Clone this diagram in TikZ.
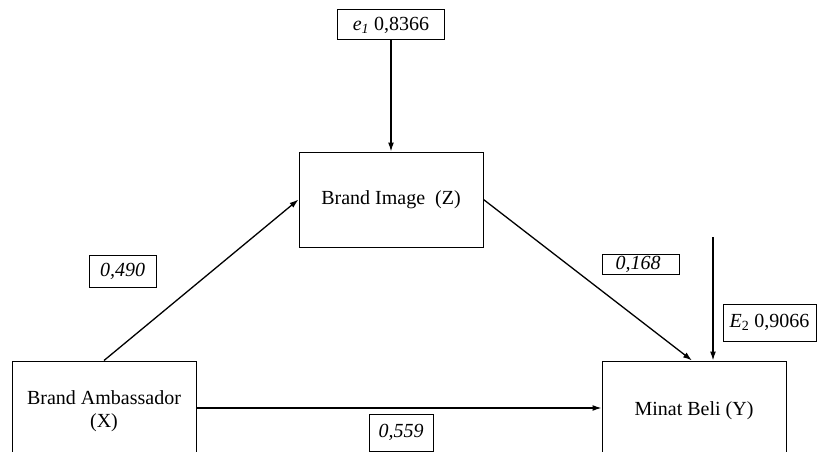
\documentclass[tikz,border=0pt]{standalone}
\usepackage{fontspec}
\setmainfont{Liberation Serif}
\usetikzlibrary{arrows.meta,calc}
\begin{document}
\begin{tikzpicture}[x=1pt,y=-1pt,
  box/.style={draw, line width=1pt, inner sep=0pt, align=center, font=\fontsize{20}{23}\selectfont},
  lbl/.style={draw, line width=1pt, inner sep=0pt, font=\fontsize{20}{23}\selectfont\itshape},
  arr/.style={line width=1.3pt, -{Latex[length=9pt,width=6pt]}}]
\useasboundingbox (0,0) rectangle (817,452);
\clip (0,0) rectangle (817,452);
% main boxes
\node[box, minimum width=107, minimum height=30] (e1) at (391,25) {\textit{e}\textsubscript{\textit{1}} 0,8366};
\node[box, minimum width=184, minimum height=95] (BI) at (391,199.5) {Brand Image\ \ (Z)};
\node[box, minimum width=184, minimum height=100] (BA) at (104,411) {Brand Ambassador\\(X)};
\node[box, minimum width=184, minimum height=100] (MB) at (694,411) {Minat Beli (Y)};
% coefficient labels
\node[lbl, minimum width=67, minimum height=32] (l490) at (122.5,271) {0,490};
\node[lbl, minimum width=77, minimum height=20, text width=68, align=left, inner xsep=0pt] (l168) at (640.5,264) {\hspace*{9pt}0,168};
\node[lbl, minimum width=64, minimum height=37] (l559) at (401,432.5) {0,559};
\node[box, minimum width=93, minimum height=37] (E2) at (769.5,322.5) {\textit{E}\textsubscript{2} 0,9066};
% connectors
\coordinate (e2top) at (713,237);
\draw[arr] (e1.south) -- (BI.north);
\draw[arr] (BA.north) -- (BI.west);
\draw[arr] (BI.east) -- ([xshift=-2pt]MB.north);
\draw[arr] ([yshift=3pt]BA.east) -- ([yshift=3pt]MB.west);
\draw[arr] (e2top) -- (e2top |- MB.north);
\end{tikzpicture}
\end{document}
